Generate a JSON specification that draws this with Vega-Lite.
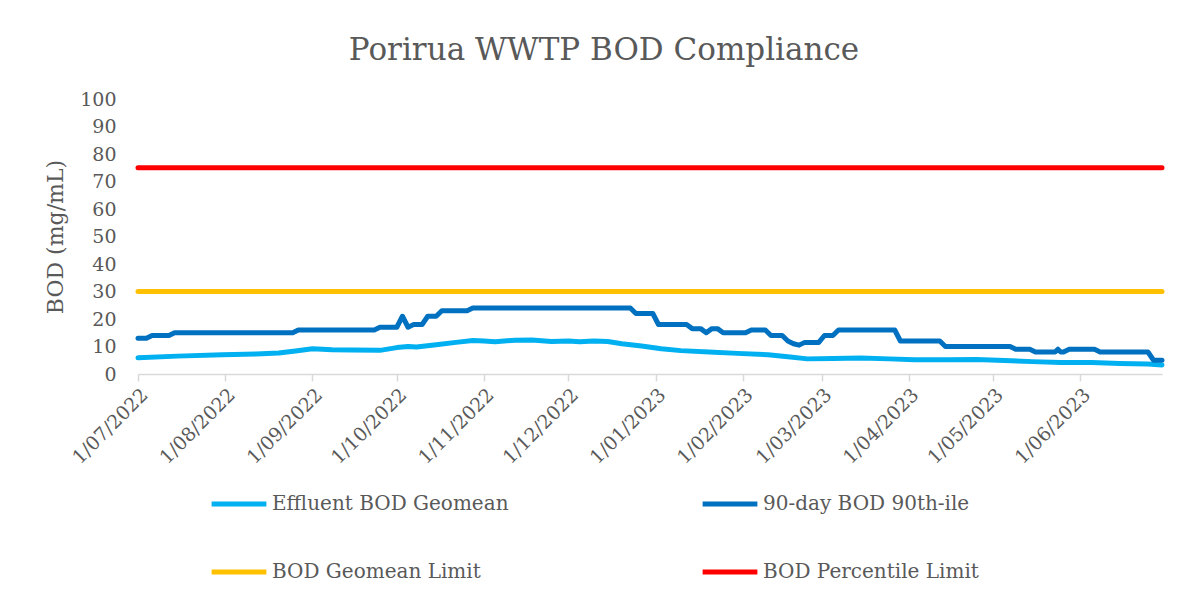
{
  "$schema": "https://vega.github.io/schema/vega-lite/v6.json",
  "autosize": {"type": "none"},
  "width": 1024,
  "height": 275,
  "padding": {"left": 138, "top": 99, "right": 39, "bottom": 242},
  "background": "white",
  "config": {
    "font": "DejaVu Serif",
    "view": {"stroke": null},
    "axis": {"labelColor": "#595959", "titleColor": "#595959", "labelFont": "DejaVu Serif", "titleFont": "DejaVu Serif"},
    "legend": {"labelColor": "#595959", "labelFont": "DejaVu Serif"}
  },
  "title": {
    "text": "Porirua WWTP BOD Compliance",
    "font": "DejaVu Serif",
    "fontSize": 31,
    "fontWeight": "normal",
    "color": "#595959",
    "anchor": "middle",
    "dx": -46,
    "offset": 23
  },
  "data": {
    "values": [
      {"date": "2022-07-01", "series": "BOD Percentile Limit", "value": 75},
      {"date": "2023-06-30", "series": "BOD Percentile Limit", "value": 75},
      {"date": "2022-07-01", "series": "BOD Geomean Limit", "value": 30},
      {"date": "2023-06-30", "series": "BOD Geomean Limit", "value": 30},

      {"date": "2022-07-01", "series": "Effluent BOD Geomean", "value": 5.9},
      {"date": "2022-07-15", "series": "Effluent BOD Geomean", "value": 6.5},
      {"date": "2022-07-31", "series": "Effluent BOD Geomean", "value": 7.0},
      {"date": "2022-08-12", "series": "Effluent BOD Geomean", "value": 7.3},
      {"date": "2022-08-20", "series": "Effluent BOD Geomean", "value": 7.6},
      {"date": "2022-08-26", "series": "Effluent BOD Geomean", "value": 8.4},
      {"date": "2022-09-01", "series": "Effluent BOD Geomean", "value": 9.2},
      {"date": "2022-09-08", "series": "Effluent BOD Geomean", "value": 8.8},
      {"date": "2022-09-15", "series": "Effluent BOD Geomean", "value": 8.7},
      {"date": "2022-09-25", "series": "Effluent BOD Geomean", "value": 8.6},
      {"date": "2022-10-01", "series": "Effluent BOD Geomean", "value": 9.6},
      {"date": "2022-10-05", "series": "Effluent BOD Geomean", "value": 10.0},
      {"date": "2022-10-08", "series": "Effluent BOD Geomean", "value": 9.8},
      {"date": "2022-10-15", "series": "Effluent BOD Geomean", "value": 10.6},
      {"date": "2022-10-22", "series": "Effluent BOD Geomean", "value": 11.5},
      {"date": "2022-10-28", "series": "Effluent BOD Geomean", "value": 12.2},
      {"date": "2022-11-01", "series": "Effluent BOD Geomean", "value": 12.0},
      {"date": "2022-11-05", "series": "Effluent BOD Geomean", "value": 11.7},
      {"date": "2022-11-12", "series": "Effluent BOD Geomean", "value": 12.3},
      {"date": "2022-11-18", "series": "Effluent BOD Geomean", "value": 12.4},
      {"date": "2022-11-25", "series": "Effluent BOD Geomean", "value": 11.8},
      {"date": "2022-12-01", "series": "Effluent BOD Geomean", "value": 12.0},
      {"date": "2022-12-05", "series": "Effluent BOD Geomean", "value": 11.7},
      {"date": "2022-12-10", "series": "Effluent BOD Geomean", "value": 12.0},
      {"date": "2022-12-15", "series": "Effluent BOD Geomean", "value": 11.8},
      {"date": "2022-12-20", "series": "Effluent BOD Geomean", "value": 11.0},
      {"date": "2022-12-27", "series": "Effluent BOD Geomean", "value": 10.2},
      {"date": "2023-01-03", "series": "Effluent BOD Geomean", "value": 9.2},
      {"date": "2023-01-10", "series": "Effluent BOD Geomean", "value": 8.5},
      {"date": "2023-01-20", "series": "Effluent BOD Geomean", "value": 8.0},
      {"date": "2023-01-30", "series": "Effluent BOD Geomean", "value": 7.5},
      {"date": "2023-02-10", "series": "Effluent BOD Geomean", "value": 7.0},
      {"date": "2023-02-17", "series": "Effluent BOD Geomean", "value": 6.3},
      {"date": "2023-02-24", "series": "Effluent BOD Geomean", "value": 5.5},
      {"date": "2023-03-05", "series": "Effluent BOD Geomean", "value": 5.6},
      {"date": "2023-03-15", "series": "Effluent BOD Geomean", "value": 5.8},
      {"date": "2023-03-25", "series": "Effluent BOD Geomean", "value": 5.5},
      {"date": "2023-04-03", "series": "Effluent BOD Geomean", "value": 5.2},
      {"date": "2023-04-15", "series": "Effluent BOD Geomean", "value": 5.2},
      {"date": "2023-04-25", "series": "Effluent BOD Geomean", "value": 5.3},
      {"date": "2023-05-05", "series": "Effluent BOD Geomean", "value": 4.9},
      {"date": "2023-05-15", "series": "Effluent BOD Geomean", "value": 4.5},
      {"date": "2023-05-25", "series": "Effluent BOD Geomean", "value": 4.2},
      {"date": "2023-06-05", "series": "Effluent BOD Geomean", "value": 4.2},
      {"date": "2023-06-15", "series": "Effluent BOD Geomean", "value": 3.8},
      {"date": "2023-06-25", "series": "Effluent BOD Geomean", "value": 3.6},
      {"date": "2023-06-30", "series": "Effluent BOD Geomean", "value": 3.3},

      {"date": "2022-07-01", "series": "90-day BOD 90th-ile", "value": 13},
      {"date": "2022-07-04", "series": "90-day BOD 90th-ile", "value": 13},
      {"date": "2022-07-06", "series": "90-day BOD 90th-ile", "value": 14},
      {"date": "2022-07-12", "series": "90-day BOD 90th-ile", "value": 14},
      {"date": "2022-07-14", "series": "90-day BOD 90th-ile", "value": 15},
      {"date": "2022-08-25", "series": "90-day BOD 90th-ile", "value": 15},
      {"date": "2022-08-27", "series": "90-day BOD 90th-ile", "value": 16},
      {"date": "2022-09-23", "series": "90-day BOD 90th-ile", "value": 16},
      {"date": "2022-09-25", "series": "90-day BOD 90th-ile", "value": 17},
      {"date": "2022-10-01", "series": "90-day BOD 90th-ile", "value": 17},
      {"date": "2022-10-03", "series": "90-day BOD 90th-ile", "value": 21},
      {"date": "2022-10-05", "series": "90-day BOD 90th-ile", "value": 17},
      {"date": "2022-10-06", "series": "90-day BOD 90th-ile", "value": 17.5},
      {"date": "2022-10-07", "series": "90-day BOD 90th-ile", "value": 18},
      {"date": "2022-10-10", "series": "90-day BOD 90th-ile", "value": 18},
      {"date": "2022-10-12", "series": "90-day BOD 90th-ile", "value": 21},
      {"date": "2022-10-15", "series": "90-day BOD 90th-ile", "value": 21},
      {"date": "2022-10-17", "series": "90-day BOD 90th-ile", "value": 23},
      {"date": "2022-10-26", "series": "90-day BOD 90th-ile", "value": 23},
      {"date": "2022-10-28", "series": "90-day BOD 90th-ile", "value": 24},
      {"date": "2022-12-23", "series": "90-day BOD 90th-ile", "value": 24},
      {"date": "2022-12-25", "series": "90-day BOD 90th-ile", "value": 22},
      {"date": "2022-12-31", "series": "90-day BOD 90th-ile", "value": 22},
      {"date": "2023-01-01", "series": "90-day BOD 90th-ile", "value": 20},
      {"date": "2023-01-02", "series": "90-day BOD 90th-ile", "value": 18},
      {"date": "2023-01-12", "series": "90-day BOD 90th-ile", "value": 18},
      {"date": "2023-01-14", "series": "90-day BOD 90th-ile", "value": 16.5},
      {"date": "2023-01-17", "series": "90-day BOD 90th-ile", "value": 16.5},
      {"date": "2023-01-19", "series": "90-day BOD 90th-ile", "value": 15},
      {"date": "2023-01-21", "series": "90-day BOD 90th-ile", "value": 16.5},
      {"date": "2023-01-23", "series": "90-day BOD 90th-ile", "value": 16.5},
      {"date": "2023-01-25", "series": "90-day BOD 90th-ile", "value": 15},
      {"date": "2023-02-02", "series": "90-day BOD 90th-ile", "value": 15},
      {"date": "2023-02-04", "series": "90-day BOD 90th-ile", "value": 16},
      {"date": "2023-02-09", "series": "90-day BOD 90th-ile", "value": 16},
      {"date": "2023-02-11", "series": "90-day BOD 90th-ile", "value": 14},
      {"date": "2023-02-15", "series": "90-day BOD 90th-ile", "value": 14},
      {"date": "2023-02-17", "series": "90-day BOD 90th-ile", "value": 12},
      {"date": "2023-02-19", "series": "90-day BOD 90th-ile", "value": 11},
      {"date": "2023-02-21", "series": "90-day BOD 90th-ile", "value": 10.5},
      {"date": "2023-02-23", "series": "90-day BOD 90th-ile", "value": 11.5},
      {"date": "2023-02-28", "series": "90-day BOD 90th-ile", "value": 11.5},
      {"date": "2023-03-02", "series": "90-day BOD 90th-ile", "value": 14},
      {"date": "2023-03-05", "series": "90-day BOD 90th-ile", "value": 14},
      {"date": "2023-03-07", "series": "90-day BOD 90th-ile", "value": 16},
      {"date": "2023-03-27", "series": "90-day BOD 90th-ile", "value": 16},
      {"date": "2023-03-29", "series": "90-day BOD 90th-ile", "value": 12},
      {"date": "2023-04-12", "series": "90-day BOD 90th-ile", "value": 12},
      {"date": "2023-04-14", "series": "90-day BOD 90th-ile", "value": 10},
      {"date": "2023-05-07", "series": "90-day BOD 90th-ile", "value": 10},
      {"date": "2023-05-09", "series": "90-day BOD 90th-ile", "value": 9},
      {"date": "2023-05-14", "series": "90-day BOD 90th-ile", "value": 9},
      {"date": "2023-05-16", "series": "90-day BOD 90th-ile", "value": 8},
      {"date": "2023-05-23", "series": "90-day BOD 90th-ile", "value": 8},
      {"date": "2023-05-24", "series": "90-day BOD 90th-ile", "value": 9},
      {"date": "2023-05-25", "series": "90-day BOD 90th-ile", "value": 8},
      {"date": "2023-05-26", "series": "90-day BOD 90th-ile", "value": 8},
      {"date": "2023-05-28", "series": "90-day BOD 90th-ile", "value": 9},
      {"date": "2023-06-06", "series": "90-day BOD 90th-ile", "value": 9},
      {"date": "2023-06-08", "series": "90-day BOD 90th-ile", "value": 8},
      {"date": "2023-06-25", "series": "90-day BOD 90th-ile", "value": 8},
      {"date": "2023-06-27", "series": "90-day BOD 90th-ile", "value": 5},
      {"date": "2023-06-30", "series": "90-day BOD 90th-ile", "value": 5}
    ]
  },
  "mark": {"type": "line", "strokeWidth": 5, "strokeCap": "round", "strokeJoin": "round", "clip": false},
  "encoding": {
    "x": {
      "field": "date",
      "type": "temporal",
      "scale": {
        "type": "utc",
        "nice": false,
        "domain": [
          {"year": 2022, "month": 7, "date": 1, "utc": true},
          {"year": 2023, "month": 6, "date": 30, "utc": true}
        ]
      },
      "axis": {
        "title": null,
        "format": "%-d/%m/%Y",
        "values": [
          {"year": 2022, "month": 7, "date": 1, "utc": true},
          {"year": 2022, "month": 8, "date": 1, "utc": true},
          {"year": 2022, "month": 9, "date": 1, "utc": true},
          {"year": 2022, "month": 10, "date": 1, "utc": true},
          {"year": 2022, "month": 11, "date": 1, "utc": true},
          {"year": 2022, "month": 12, "date": 1, "utc": true},
          {"year": 2023, "month": 1, "date": 1, "utc": true},
          {"year": 2023, "month": 2, "date": 1, "utc": true},
          {"year": 2023, "month": 3, "date": 1, "utc": true},
          {"year": 2023, "month": 4, "date": 1, "utc": true},
          {"year": 2023, "month": 5, "date": 1, "utc": true},
          {"year": 2023, "month": 6, "date": 1, "utc": true}
        ],
        "labelAngle": -45,
        "labelFontSize": 19,
        "labelPadding": 4,
        "labelOverlap": false,
        "labelBound": false,
        "labelFlush": false,
        "domainColor": "#D9D9D9",
        "domainWidth": 1.5,
        "tickColor": "#D9D9D9",
        "tickWidth": 1.5,
        "tickSize": 7,
        "grid": false
      }
    },
    "y": {
      "field": "value",
      "type": "quantitative",
      "scale": {"domain": [0, 100], "nice": false},
      "axis": {
        "title": "BOD (mg/mL)",
        "titleFontSize": 22,
        "titleFontWeight": "normal",
        "titlePadding": 12,
        "values": [0, 10, 20, 30, 40, 50, 60, 70, 80, 90, 100],
        "labelFontSize": 19,
        "labelPadding": 22,
        "domain": false,
        "ticks": false,
        "grid": false
      }
    },
    "color": {
      "field": "series",
      "type": "nominal",
      "scale": {
        "domain": ["Effluent BOD Geomean", "90-day BOD 90th-ile", "BOD Geomean Limit", "BOD Percentile Limit"],
        "range": ["#00B0F0", "#0070C0", "#FFC000", "#FF0000"]
      },
      "legend": {
        "title": null,
        "orient": "none",
        "direction": "horizontal",
        "legendX": 71,
        "legendY": 375,
        "columns": 2,
        "columnPadding": 183,
        "rowPadding": 28,
        "symbolType": "stroke",
        "symbolSize": 3000,
        "symbolStrokeWidth": 5,
        "labelFontSize": 20,
        "labelOffset": 3,
        "labelLimit": 400
      }
    }
  }
}
